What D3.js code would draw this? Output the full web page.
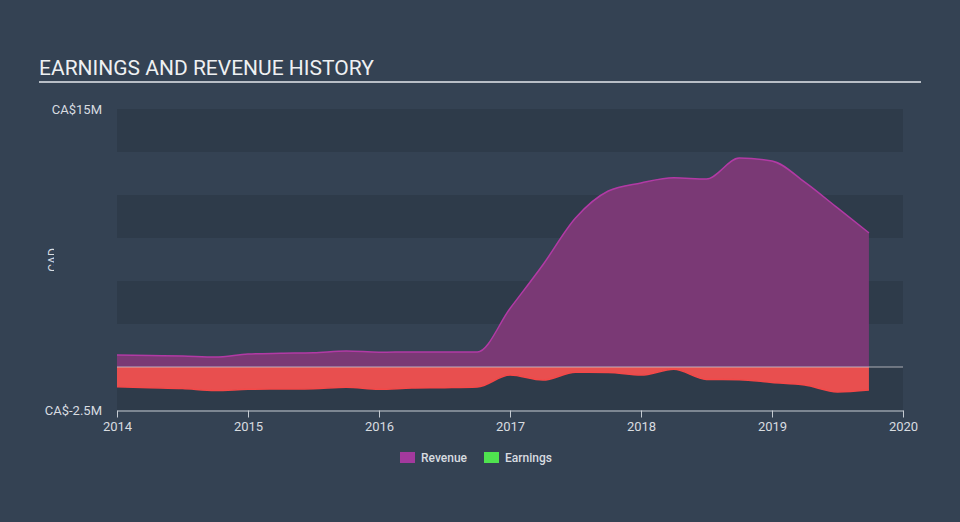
<!DOCTYPE html>
<html>
<head>
<meta charset="utf-8">
<script src="https://cdn.jsdelivr.net/npm/d3@7"></script>
<style>
  html, body { margin: 0; padding: 0; background: #344253; }
  svg { display: block; font-family: Roboto, "Noto Sans", sans-serif; }
</style>
</head>
<body>
<svg id="chart" width="960" height="522"></svg>
<script>
// ---- data (values in CA$ millions) ----
const dates = [2014.0, 2014.25, 2014.5, 2014.75, 2015.0, 2015.25, 2015.5, 2015.75,
               2016.0, 2016.25, 2016.5, 2016.75, 2017.0, 2017.25, 2017.5, 2017.75,
               2018.0, 2018.25, 2018.5, 2018.75, 2019.0, 2019.25, 2019.5, 2019.74];
const revenue = [0.70, 0.67, 0.64, 0.58, 0.75, 0.80, 0.83, 0.93,
                 0.86, 0.87, 0.87, 0.87, 3.40, 5.93, 8.66, 10.23,
                 10.70, 11.00, 10.93, 12.15, 11.98, 10.75, 9.25, 7.80];
const earnings = [-1.15, -1.20, -1.25, -1.37, -1.30, -1.28, -1.26, -1.18,
                  -1.30, -1.22, -1.20, -1.16, -0.47, -0.76, -0.31, -0.32,
                  -0.47, -0.13, -0.72, -0.74, -0.90, -1.05, -1.45, -1.34];
const yearTicks = [2014, 2015, 2016, 2017, 2018, 2019, 2020];
const yLabels = [15, -2.5];
const bandStarts = [12.5, 7.5, 2.5, -2.5];
const legendItems = ["Revenue", "Earnings"];
const legendColors = ["#a3399d", "#4fe34f"];

const svg = d3.select("#chart");
const x = d3.scaleLinear().domain([2014, 2020]).range([117, 903]);
const y = d3.scaleLinear().domain([-2.5, 15]).range([410, 109]);

// background
svg.append("rect").attr("width", 960).attr("height", 522).attr("fill", "#344253");

// title
svg.append("text").attr("x", 39).attr("y", 75)
  .attr("fill", "#eef0f2").attr("font-size", 21).text("EARNINGS AND REVENUE HISTORY");
svg.append("line").attr("x1", 39).attr("x2", 921).attr("y1", 82).attr("y2", 82)
  .attr("stroke", "#b8bec6").attr("stroke-width", 2);

// bands
svg.append("g").selectAll("rect").data(bandStarts).join("rect")
  .attr("x", x(2014)).attr("width", x(2020) - x(2014))
  .attr("y", d => y(d + 2.5)).attr("height", d => y(d) - y(d + 2.5))
  .attr("fill", "#2e3b4a");

// y labels
svg.append("g").selectAll("text").data(yLabels).join("text")
  .attr("x", 102).attr("y", d => y(d)).attr("dy", "0.35em")
  .attr("text-anchor", "end").attr("fill", "#d8dce0").attr("font-size", 13)
  .text(d => "CA$" + d + "M");

// y axis title (partially clipped)
svg.append("clipPath").attr("id", "ytclip").append("rect")
  .attr("x", 0).attr("y", 0).attr("width", 54).attr("height", 522);
svg.append("g").attr("clip-path", "url(#ytclip)")
  .append("text")
  .attr("transform", "translate(57,260) rotate(-90)")
  .attr("text-anchor", "middle").attr("fill", "#d8dce0").attr("font-size", 12)
  .text("CAD");

const pts = dates.map((d, i) => ({ d, r: revenue[i], e: earnings[i] }));

// revenue area
svg.append("path").datum(pts)
  .attr("fill", "#7a3975")
  .attr("d", d3.area().curve(d3.curveMonotoneX).x(p => x(p.d)).y0(y(0)).y1(p => y(p.r)));
svg.append("path").datum(pts)
  .attr("fill", "none").attr("stroke", "#b23aa5").attr("stroke-width", 1.5)
  .attr("d", d3.line().curve(d3.curveMonotoneX).x(p => x(p.d)).y(p => y(p.r)));

// earnings area
svg.append("path").datum(pts)
  .attr("fill", "#e84f4f")
  .attr("d", d3.area().curve(d3.curveMonotoneX).x(p => x(p.d)).y0(y(0)).y1(p => y(p.e)));
svg.append("path").datum(pts)
  .attr("fill", "none").attr("stroke", "#f44848").attr("stroke-width", 1.5)
  .attr("d", d3.line().curve(d3.curveMonotoneX).x(p => x(p.d)).y(p => y(p.e)));

// zero line
svg.append("line").attr("x1", x(2014)).attr("x2", x(2020))
  .attr("y1", y(0)).attr("y2", y(0))
  .attr("stroke", "#c8c8cc").attr("stroke-opacity", 0.55).attr("stroke-width", 1.5);

// x axis
const xAxis = svg.append("g").attr("transform", "translate(0,410.5)")
  .call(d3.axisBottom(x).tickValues(yearTicks).tickFormat(d3.format("d"))
    .tickSize(7).tickSizeOuter(0).tickPadding(4));
xAxis.select(".domain").attr("stroke", "#c5cbd2");
xAxis.selectAll(".tick line").attr("stroke", "#c5cbd2");
xAxis.selectAll(".tick text").attr("fill", "#d8dce0").attr("font-size", 13)
  .attr("font-family", "Roboto, sans-serif");

// legend
const lg = svg.append("g").selectAll("g").data(legendItems).join("g")
  .attr("transform", (d, i) => `translate(${[400, 484][i]},452)`);
lg.append("rect").attr("width", 15).attr("height", 11).attr("fill", (d, i) => legendColors[i]);
lg.append("text").attr("x", 21).attr("y", 5.5).attr("dy", "0.35em")
  .attr("fill", "#d8dce0").attr("font-size", 12).attr("font-weight", 500).text(d => d);
</script>
</body>
</html>
